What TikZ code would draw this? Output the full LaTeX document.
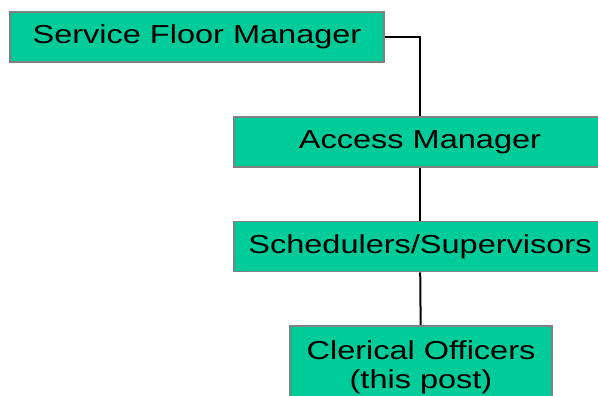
\documentclass[tikz,border=0pt]{standalone}
\usepackage{fontspec}
\newfontfamily\boxfont[FakeStretch=1.25]{Liberation Sans}
\definecolor{boxgreen}{RGB}{0,204,153}
\begin{document}
\begin{tikzpicture}[x=1pt,y=-1pt,
  orgbox/.style={draw=gray,line width=1.8pt,fill=boxgreen,inner sep=0pt,
    font=\boxfont\fontsize{26}{29}\selectfont,align=center},
  link/.style={line width=2pt,black}]
\useasboundingbox (0,0) rectangle (598,396);
\begin{scope}
\clip (0,0) rectangle (598,396);
\node[orgbox,minimum width=374pt,minimum height=50pt] (sfm) at (197,37) {Service Floor Manager};
\node[orgbox,minimum width=372pt,minimum height=50pt] (access) at (420,142) {Access Manager};
\node[orgbox,minimum width=372pt,minimum height=50pt] (sched) at (420,246.5) {Schedulers/Supervisors};
\node[orgbox,minimum width=262pt,minimum height=82pt] (clerk) at (421,367) {Clerical Officers\\(this post)};

\draw[link] (sfm.east) -| (access.north);
\draw[link] (access) -- (sched);
\draw[link] (sched) -- (clerk);
\end{scope}
\end{tikzpicture}
\end{document}
